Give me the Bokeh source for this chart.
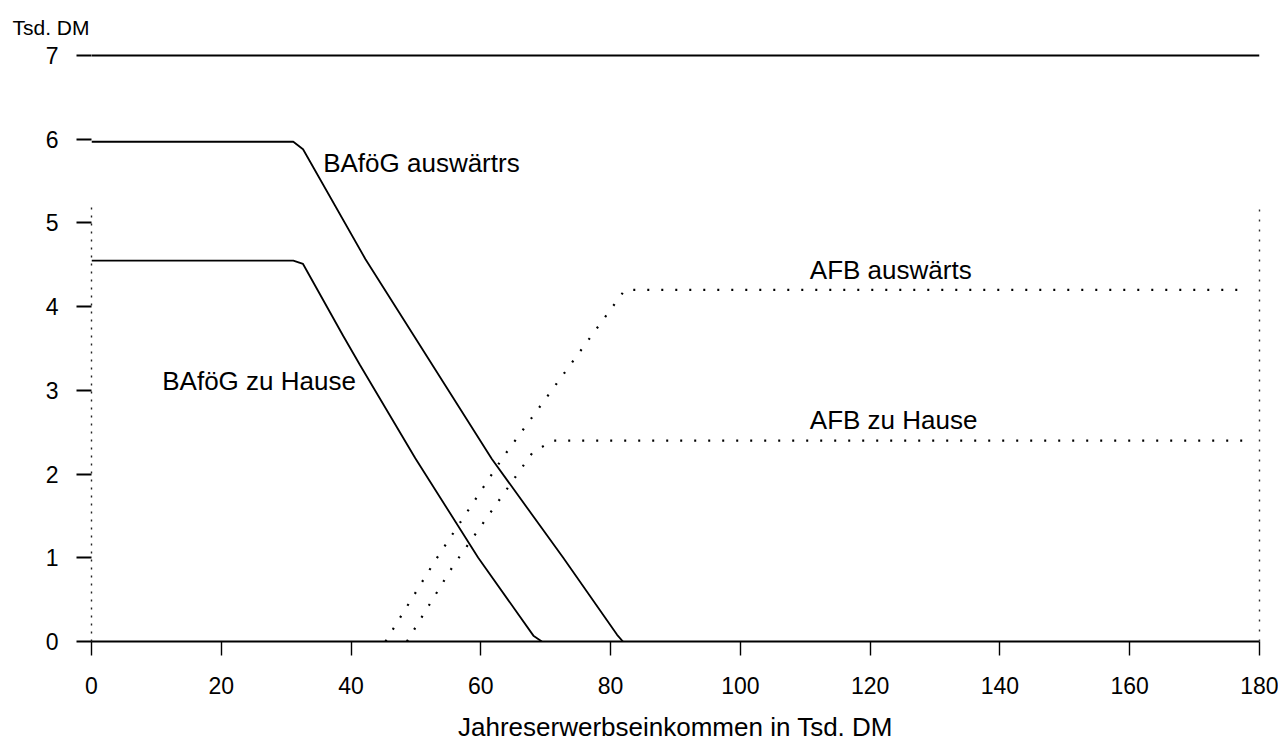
from bokeh.plotting import figure
from bokeh.models import Range1d, LinearAxis, FixedTicker, Label, Title
from bokeh.embed import file_html
from bokeh.resources import INLINE

# ---- data ----
income_bafoeg_aus = [0, 31.1, 32.6, 42.2, 61.7, 72.7, 81.0, 81.9]
bafoeg_aus = [5.97, 5.97, 5.88, 4.57, 2.18, 1.00, 0.08, 0.0]

income_bafoeg_hause = [0, 31.1, 32.6, 38.8, 41.4, 49.9, 59.6, 68.1, 69.4]
bafoeg_hause = [4.55, 4.55, 4.51, 3.65, 3.30, 2.19, 1.00, 0.07, 0.0]

income_afb_aus = [45.3, 53.0, 63.5, 82.2, 178.0]
afb_aus = [0.0, 0.97, 2.21, 4.20, 4.20]

income_afb_hause = [48.6, 55.7, 67.9, 71.0, 178.0]
afb_hause = [0.0, 0.90, 2.25, 2.40, 2.40]

x_ticks = [0, 20, 40, 60, 80, 100, 120, 140, 160, 180]
y_ticks = [0, 1, 2, 3, 4, 5, 6, 7]

series_names = ["BAföG auswärtrs", "BAföG zu Hause", "AFB auswärts", "AFB zu Hause"]
x_title = "Jahreserwerbseinkommen in Tsd. DM"
y_title = "Tsd. DM"

FONT = "Liberation Sans"

p = figure(width=1278, height=744, output_backend="svg", toolbar_location=None,
           x_range=Range1d(0, 180), y_range=Range1d(0, 7.024),
           y_axis_location=None, x_axis_location=None,
           min_border_left=91, min_border_right=19,
           min_border_top=53, min_border_bottom=95)
p.outline_line_color = None
p.background_fill_color = "white"
p.border_fill_color = "white"

# unit title top-left
p.add_layout(Title(text=y_title, align="left", vertical_align="top", offset=-79, standoff=26,
                   text_font=FONT, text_font_size="21px", text_font_style="normal",
                   text_color="black"), "above")

# dotted left axis line (closest to frame), limited extent
yline = LinearAxis(ticker=FixedTicker(ticks=[]), bounds=(0, 5.25),
                   axis_line_color="#222222", axis_line_dash="2 6", axis_line_width=1.4,
                   major_tick_out=0, major_tick_in=0, minor_tick_out=0, minor_tick_in=0,
                   major_label_standoff=0, axis_label_standoff=0)
p.add_layout(yline, "left")

# labelled left axis
yax = LinearAxis(ticker=FixedTicker(ticks=y_ticks), axis_line_color=None,
                 major_tick_out=15, major_tick_in=0, major_tick_line_width=1.8,
                 major_tick_line_color="black", minor_tick_out=0, minor_tick_in=0,
                 major_label_standoff=18,
                 major_label_text_font=FONT, major_label_text_font_size="23px",
                 major_label_text_color="black")
p.add_layout(yax, "left")

# dotted right frame line
rline = LinearAxis(ticker=FixedTicker(ticks=[]), bounds=(0, 5.25),
                   axis_line_color="#333333", axis_line_dash="2 8", axis_line_width=1.4,
                   major_tick_out=0, major_tick_in=0, minor_tick_out=0, minor_tick_in=0,
                   major_label_standoff=0, axis_label_standoff=0)
p.add_layout(rline, "right")

# bottom axis
xax = LinearAxis(ticker=FixedTicker(ticks=x_ticks), axis_line_color="black",
                 axis_line_width=2.2,
                 major_tick_out=14, major_tick_in=0, major_tick_line_width=1.4,
                 minor_tick_out=0, minor_tick_in=0,
                 major_label_standoff=21,
                 major_label_text_font=FONT, major_label_text_font_size="23px",
                 major_label_text_color="black",
                 axis_label=x_title, axis_label_standoff=15,
                 axis_label_text_font=FONT, axis_label_text_font_size="26px",
                 axis_label_text_font_style="normal", axis_label_text_color="black")
p.add_layout(xax, "below")

# grid: only the top line at 7
p.xgrid.visible = False
p.ygrid.ticker = FixedTicker(ticks=[7])
p.ygrid.grid_line_color = "black"
p.ygrid.grid_line_width = 2

# series
p.line(income_bafoeg_aus, bafoeg_aus, line_color="black", line_width=1.8)
p.line(income_bafoeg_hause, bafoeg_hause, line_color="black", line_width=1.8)
p.line(income_afb_aus, afb_aus, line_color="black", line_width=2.2, line_dash="2 12")
p.line(income_afb_hause, afb_hause, line_color="black", line_width=2.2, line_dash="2 12")

# in-plot labels
label_kw = dict(text_font=FONT, text_font_size="26px", text_color="black",
                text_baseline="alphabetic", text_align="left")
p.add_layout(Label(x=35.7, y=5.71, text=series_names[0], **label_kw))
p.add_layout(Label(x=10.9, y=3.11, text=series_names[1], **label_kw))
p.add_layout(Label(x=110.7, y=4.44, text=series_names[2], **label_kw))
p.add_layout(Label(x=110.7, y=2.64, text=series_names[3], **label_kw))

open("out.html", "w").write(file_html(p, INLINE))
